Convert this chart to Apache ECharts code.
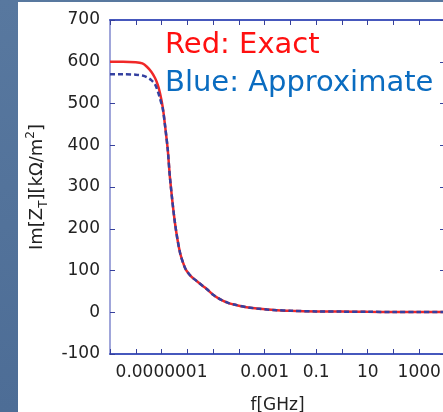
<!DOCTYPE html>
<html>
<head>
<meta charset="utf-8">
<script src="https://cdn.jsdelivr.net/npm/echarts@6/dist/echarts.min.js"></script>
<style>
  html, body { margin: 0; padding: 0; }
  #chart { width: 443px; height: 412px; }
</style>
</head>
<body>
<div id="chart"></div>
<script>
// frequency samples [GHz]
const freq = [1e-9, 3.2e-9, 1e-8, 1.8e-8, 2.7e-8, 4e-8, 5.6e-8, 7.1e-8, 8.7e-8, 1.12e-7,
  1.38e-7, 1.74e-7, 2.14e-7, 3.3e-7, 5.2e-7, 7.9e-7, 9.5e-7, 1.4e-6, 2.3e-6, 4e-6,
  5.8e-6, 1e-5, 1.9e-5, 4e-5, 8.3e-5, 2e-4, 5e-4, 1.26e-3, 3e-3, 1e-2,
  0.1, 1, 10, 100, 1000, 1e4]
// Im[Z_T] exact (red)
const exact = [600, 600, 599, 596, 588, 576, 561, 545, 525, 490,
  445, 390, 320, 215, 143, 108, 99, 86, 75, 63,
  55, 42, 31, 22, 17, 12, 9, 6.5, 5, 3.5,
  2, 1.5, 1, 0.8, 0.6, 0.5]
// Im[Z_T] approximate (blue)
const approx = [570, 570, 569, 567, 563, 556, 546, 530, 512, 487,
  445, 390, 320, 215, 143, 108, 99, 86, 75, 63,
  55, 42, 31, 22, 17, 12, 9, 6.5, 5, 3.5,
  2, 1.5, 1, 0.8, 0.6, 0.5]
// shown x tick labels (exponent -> text)
const xTickExp = [-7, -3, -1, 1, 3]
const xTickText = ['0.0000001', '0.001', '0.1', '10', '1000']

const sideCol = '#a0a6da'   // left / right axis line
const flatCol = '#4658bd'   // top / bottom axis line
const tickCol = '#36409c'
const font = 'DejaVu Sans'

const chart = echarts.init(document.getElementById('chart'))

const xLabel = v => {
  const e = Math.round(Math.log10(v))
  const i = xTickExp.indexOf(e)
  return i >= 0 ? xTickText[i] : ''
}

const xBase = {
  type: 'log',
  logBase: 10,
  min: 1e-9,
  max: 1e4,
  interval: 1,
  axisLine: { show: true, onZero: false, lineStyle: { color: flatCol, width: 2 } },
  axisTick: { show: true, inside: true, length: 5, lineStyle: { color: tickCol, width: 1 } },
  minorTick: { show: false },
  splitLine: { show: false }
}
const yBase = {
  type: 'value',
  min: -100,
  max: 700,
  interval: 100,
  axisLine: { show: true, lineStyle: { color: sideCol, width: 2 } },
  axisTick: { show: true, inside: true, length: 5, lineStyle: { color: tickCol, width: 1 } },
  splitLine: { show: false }
}

chart.setOption({
  animation: false,
  backgroundColor: new echarts.graphic.LinearGradient(0, 0, 0, 1, [
    { offset: 0, color: '#58789f' },
    { offset: 1, color: '#4d6d96' }
  ]),
  graphic: [
    { type: 'rect', left: 18, top: 2, shape: { width: 430, height: 415 }, style: { fill: '#fff' }, z: -10 },
    { type: 'text', left: 165, top: 31, style: { text: 'Red: Exact', fill: '#ff1010', font: '29px "DejaVu Sans"' } },
    { type: 'text', left: 165, top: 69, style: { text: 'Blue: Approximate', fill: '#0a6cc0', font: '29px "DejaVu Sans"' } }
  ],
  grid: { left: 110, top: 20, width: 335, bottom: 58, containLabel: false, outerBoundsMode: 'none' },
  xAxis: [
    Object.assign({}, xBase, {
      position: 'bottom',
      name: 'f[GHz]',
      nameLocation: 'middle',
      nameGap: 43,
      nameTextStyle: { color: '#222', fontFamily: font, fontSize: 17 },
      axisLabel: { interval: 0, margin: 10, color: '#222', fontFamily: font, fontSize: 17, formatter: xLabel }
    }),
    Object.assign({}, xBase, { position: 'top', axisLabel: { show: false } })
  ],
  yAxis: [
    Object.assign({}, yBase, {
      position: 'left',
      name: 'Im[Z{sub|T}][kΩ/m{sup|2}]',
      nameLocation: 'middle',
      nameGap: 60,
      nameTextStyle: {
        color: '#222', fontFamily: font, fontSize: 18,
        rich: {
          sub: { fontFamily: font, fontSize: 12, color: '#222', padding: [13, 0, 0, 0] },
          sup: { fontFamily: font, fontSize: 12, color: '#222', padding: [0, 0, 13, 0] }
        }
      },
      axisLabel: { margin: 10, color: '#222', fontFamily: font, fontSize: 17 }
    }),
    Object.assign({}, yBase, { position: 'right', axisLabel: { show: false } })
  ],
  series: [
    {
      name: 'Exact',
      type: 'line',
      data: freq.map((f, i) => [f, exact[i]]),
      showSymbol: false,
      smooth: 0.3,
      lineStyle: { color: '#f02828', width: 2.5 },
      z: 2
    },
    {
      name: 'Approximate',
      type: 'line',
      data: freq.map((f, i) => [f, approx[i]]),
      showSymbol: false,
      smooth: 0.3,
      lineStyle: { color: '#3440a0', width: 2.5, type: [5, 3] },
      z: 3
    }
  ]
})
</script>
</body>
</html>
